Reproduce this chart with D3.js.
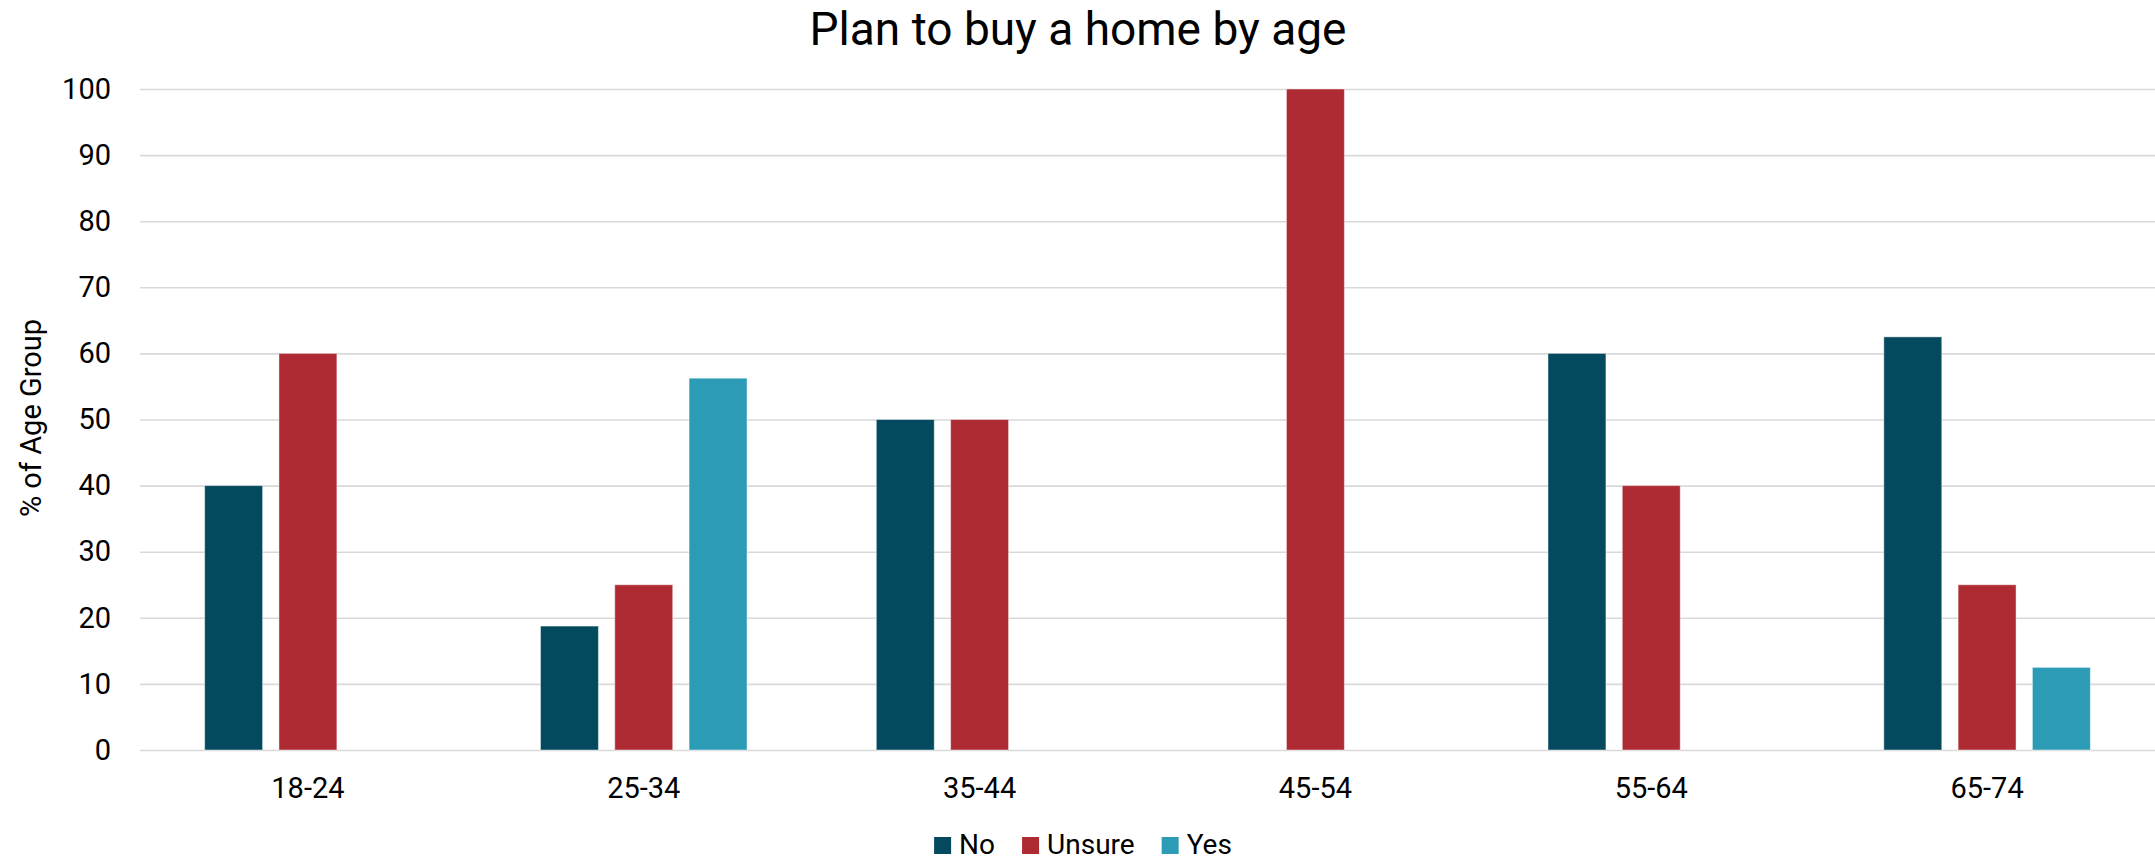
<!DOCTYPE html>
<html>
<head>
<meta charset="utf-8">
<script src="https://cdn.jsdelivr.net/npm/d3@7"></script>
<style>
  html, body { margin: 0; padding: 0; background: #ffffff; }
  svg { display: block; }
  text { font-family: Roboto, "Liberation Sans", Arial, sans-serif; fill: #000; }
</style>
</head>
<body>
<svg id="chart" width="2155" height="862"></svg>
<script>
// ---- data ----
const title = "Plan to buy a home by age";
const yAxisTitle = "% of Age Group";
const categories = ["18-24", "25-34", "35-44", "45-54", "55-64", "65-74"];
const seriesNames = ["No", "Unsure", "Yes"];
const noValues = [40, 18.75, 50, 0, 60, 62.5];
const unsureValues = [60, 25, 50, 100, 40, 25];
const yesValues = [0, 56.25, 0, 0, 0, 12.5];
const yTicks = [0, 10, 20, 30, 40, 50, 60, 70, 80, 90, 100];
const seriesColors = ["#034A5E", "#AF2B33", "#2C9BB5"];

const seriesValues = [noValues, unsureValues, yesValues];

// ---- layout ----
const plot = { left: 140, right: 2155, top: 89, bottom: 750 };
const svg = d3.select("#chart");

const x0 = d3.scaleBand().domain(categories).range([plot.left, plot.right]).paddingInner(0).paddingOuter(0);
const groupW = x0.bandwidth() * 0.615;
const x1 = d3.scaleBand().domain(seriesNames).range([-groupW / 2, groupW / 2]).paddingInner(0.22).paddingOuter(0);
const y = d3.scaleLinear().domain([0, 100]).range([plot.bottom, plot.top]);
const color = d3.scaleOrdinal().domain(seriesNames).range(seriesColors);

// gridlines + y tick labels
const yAxis = svg.append("g")
  .attr("transform", `translate(${plot.left},0)`)
  .call(d3.axisLeft(y).tickValues(yTicks).tickSize(-(plot.right - plot.left)).tickPadding(29));
yAxis.select(".domain").remove();
yAxis.selectAll(".tick line").attr("stroke", "#d9d9d9").attr("stroke-width", 1.6);
yAxis.selectAll(".tick text").style("font-size", "29px").attr("fill", "#000");

// bars
const rows = categories.map((c, i) => ({
  cat: c,
  vals: seriesNames.map((s, j) => ({ series: s, value: seriesValues[j][i] }))
}));
const groups = svg.append("g").selectAll("g").data(rows).join("g")
  .attr("transform", d => `translate(${x0(d.cat) + x0.bandwidth() / 2},0)`);
groups.selectAll("rect").data(d => d.vals.filter(v => v.value > 0)).join("rect")
  .attr("x", d => x1(d.series))
  .attr("width", x1.bandwidth())
  .attr("y", d => y(d.value))
  .attr("height", d => y(0) - y(d.value))
  .attr("fill", d => color(d.series))
  .attr("stroke", "rgba(255,255,255,0.45)")
  .attr("stroke-width", 1);

// x axis labels
const xAxis = svg.append("g")
  .attr("transform", `translate(0,${plot.bottom})`)
  .call(d3.axisBottom(x0).tickSize(0).tickPadding(27));
xAxis.select(".domain").remove();
xAxis.selectAll(".tick text").style("font-size", "29px").attr("fill", "#000");

// title
svg.append("text")
  .attr("x", 1078).attr("y", 45)
  .attr("text-anchor", "middle")
  .style("font-size", "46px")
  .text(title);

// y axis title
svg.append("text")
  .attr("transform", `translate(41,418) rotate(-90)`)
  .attr("text-anchor", "middle")
  .style("font-size", "29px")
  .text(yAxisTitle);

// legend
const legend = svg.append("g");
const items = legend.selectAll("g").data(seriesNames).join("g");
items.append("rect").attr("width", 17).attr("height", 17).attr("y", 837).attr("fill", d => color(d));
items.append("text").attr("x", 25).attr("y", 854).style("font-size", "28px").text(d => d);
const widths = [];
items.each(function () {
  const tw = d3.select(this).select("text").node().getComputedTextLength();
  widths.push(25 + tw);
});
const gap = 27;
const total = d3.sum(widths) + gap * (widths.length - 1);
let start = 1083 - total / 2;
items.attr("transform", (d, i) => {
  const t = `translate(${start},0)`;
  start += widths[i] + gap;
  return t;
});
</script>
</body>
</html>
